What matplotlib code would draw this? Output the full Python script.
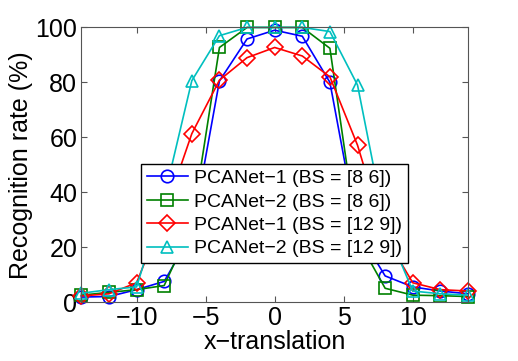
import matplotlib
matplotlib.use("Agg")
import matplotlib.pyplot as plt

plt.rcParams['font.family'] = ['Liberation Sans', 'DejaVu Sans']

# x shifts and recognition rates
x_shift = [-14, -12, -10, -8, -6, -4, -2, 0, 2, 4, 6, 8, 10, 12, 14]
pcanet1_86 = [1.8, 2.0, 4.5, 7.5, 25, 80.5, 95.8, 99, 96.8, 80, 26, 9.5, 5.5, 4.0, 3.0]
pcanet2_86 = [2.5, 3.5, 4.5, 6.0, 28, 92.7, 100, 100, 100, 92.4, 23, 5.0, 2.5, 2.3, 2.0]
pcanet1_129 = [2.2, 3.0, 7.0, 32, 61.3, 80.8, 89, 92.7, 89.6, 82, 57.1, 24, 7.0, 4.5, 4.0]
pcanet2_129 = [3.2, 4.5, 5.5, 38, 80.6, 97, 100, 100, 100, 98.5, 79, 28, 4.0, 3.0, 2.5]

labels = ['PCANet\u22121 (BS = [8 6])', 'PCANet\u22122 (BS = [8 6])',
          'PCANet\u22121 (BS = [12 9])', 'PCANet\u22122 (BS = [12 9])']
series = [pcanet1_86, pcanet2_86, pcanet1_129, pcanet2_129]
colors = ['#0000ff', '#008000', '#ff0000', '#00bfbf']
markers = ['o', 's', 'D', '^']
msizes = [9, 8, 8, 9]

fig = plt.figure(figsize=(5.18, 3.61), dpi=100)
ax = fig.add_axes([0.157, 0.1634, 0.7465, 0.7606])

for y, lab, c, m, ms in zip(series, labels, colors, markers, msizes):
    ax.plot(x_shift, y, color=c, marker=m, markersize=ms, markerfacecolor='none',
            markeredgecolor=c, markeredgewidth=1.2, linewidth=1.2, label=lab,
            clip_on=False)

ax.set_xlim(-14, 14)
ax.set_ylim(0, 100)
ax.set_xticks([-10, -5, 0, 5, 10])
ax.set_xticklabels(['\u221210', '\u22125', '0', '5', '10'])
ax.set_yticks([0, 20, 40, 60, 80, 100])
ax.tick_params(direction='in', top=True, right=True, labelsize=18, length=4,
               color='#555555', pad=3)
for s in ax.spines.values():
    s.set_color('#555555')

ax.set_xlabel('x\u2212translation', fontsize=18, labelpad=0)
ax.set_ylabel('Recognition rate (%)', fontsize=18, labelpad=2)

leg = ax.legend(loc='lower center', bbox_to_anchor=(0.5, 0.141), fontsize=14,
                frameon=True, fancybox=False, edgecolor='black', framealpha=1,
                handlelength=2.1, borderpad=0.3, labelspacing=0.3,
                handletextpad=0.35, borderaxespad=0)
leg.get_frame().set_linewidth(1.0)
leg.set_zorder(5)

fig.savefig('out.png', dpi=100)
